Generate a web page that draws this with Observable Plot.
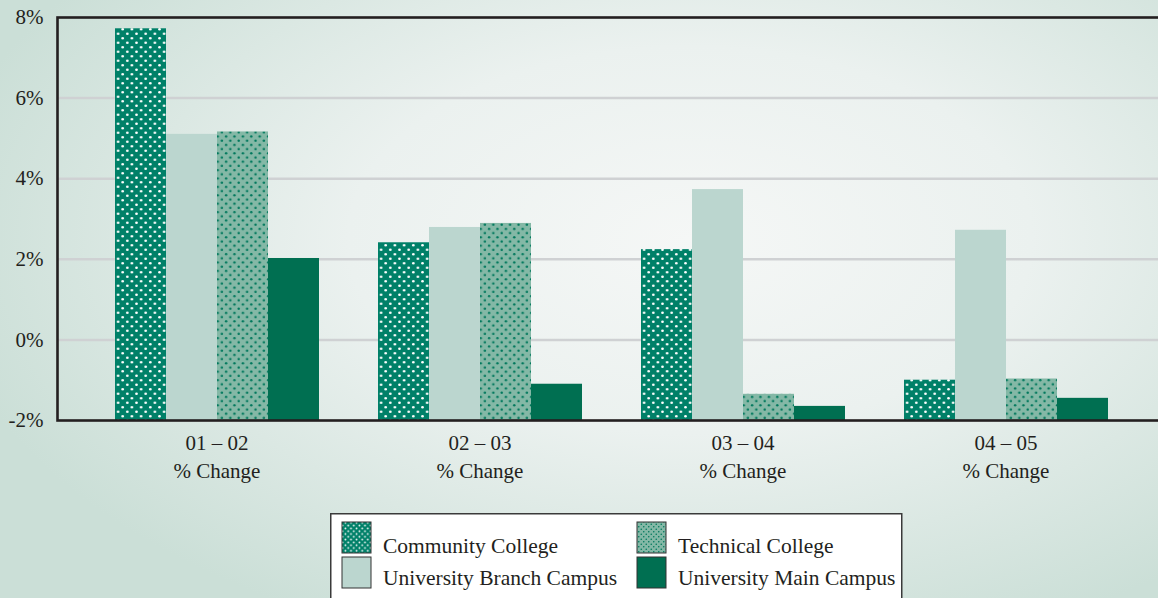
<!DOCTYPE html>
<html>
<head>
<meta charset="utf-8">
<script src="https://cdn.jsdelivr.net/npm/d3@7"></script>
<script src="https://cdn.jsdelivr.net/npm/@observablehq/plot@0.6"></script>
<style>
  html, body { margin: 0; padding: 0; }
  body {
    width: 1158px; height: 598px; overflow: hidden; position: relative;
    background: radial-gradient(ellipse 760px 430px at 690px 240px, #f5f7f6 0%, #ebf1ef 45%, #cbdfd7 100%);
    font-family: "Liberation Serif", serif;
  }
  .layer { position: absolute; left: 0; top: 0; }
  #legend { position: absolute; left: 330px; top: 513px; }
</style>
</head>
<body>
<div id="grid" class="layer"></div>
<div id="bars" class="layer"></div>
<div id="axes" class="layer"></div>
<div id="legend"></div>
<script>
// ---- data ----
const groups = ["01 – 02", "02 – 03", "03 – 04", "04 – 05"];
const groupSuffix = "% Change";
const series = ["Community College", "University Branch Campus", "Technical College", "University Main Campus"];
const communityCollege = [7.72, 2.41, 2.24, -1.0];
const universityBranch = [5.10, 2.79, 3.73, 2.72];
const technicalCollege = [5.16, 2.89, -1.35, -0.97];
const universityMain   = [2.02, -1.1, -1.65, -1.45];
const yTicks = [-2, 0, 2, 4, 6, 8];

const seriesValues = [communityCollege, universityBranch, technicalCollege, universityMain];
const data = [];
groups.forEach((g, gi) => series.forEach((s, si) => data.push({group: g, series: s, value: seriesValues[si][gi]})));

const fills = ["url(#pCC)", "#bbd6cf", "url(#pTC)", "#006f51"];
const legendFills = ["url(#lCC)", "#bbd6cf", "url(#lTC)", "#006f51"];
const ink = "#231f20";

const common = {
  width: 1158,
  height: 505,
  marginLeft: 57,
  marginRight: 0,
  marginTop: 17,
  marginBottom: 85,
  style: {fontFamily: "'Liberation Serif', serif", fontSize: "21px", color: ink, background: "transparent", overflow: "visible"},
  y: {domain: [yTicks[0], yTicks[yTicks.length - 1]], axis: null}
};

// layer 1: gridlines across the full plot width
const gridPlot = Plot.plot({
  ...common,
  marks: [Plot.ruleY(yTicks.slice(1, -1), {stroke: "#cfd1d3", strokeWidth: 2.5})]
});

// layer 2: grouped bars (faceted by period)
const barPlot = Plot.plot({
  ...common,
  fx: {domain: groups, paddingInner: 0.214, paddingOuter: 0.2, align: 0.53, label: null},
  x: {domain: series, padding: 0, axis: null},
  color: {domain: series, range: fills},
  marks: [
    Plot.barY(data, {fx: "group", x: "series", y1: yTicks[0], y2: "value", fill: "series"}),
    Plot.axisFx({anchor: "bottom", tickFormat: d => `${d}\n${groupSuffix}`, tickSize: 0, tickPadding: 9, fontSize: 21, lineHeight: 1.36, fill: ink, label: null})
  ]
});

// layer 3: frame and y axis on top
const axesPlot = Plot.plot({
  ...common,
  marks: [
    Plot.frame({stroke: ink, strokeWidth: 2.6, insetRight: -6}),
    Plot.axisY(yTicks, {tickFormat: d => `${d}%`, tickSize: 0, tickPadding: 14, fontSize: 21, fill: ink})
  ]
});

d3.select(barPlot).insert("defs", ":first-child").html(`
  <pattern id="pCC" patternUnits="userSpaceOnUse" width="9.2" height="9">
    <rect width="9.2" height="9" fill="#008068"/>
    <circle cx="2.3" cy="2.25" r="1.35" fill="#ffffff"/>
    <circle cx="6.9" cy="6.75" r="1.35" fill="#ffffff"/>
  </pattern>
  <pattern id="pTC" patternUnits="userSpaceOnUse" width="8.4" height="8.4">
    <rect width="8.4" height="8.4" fill="#84b8a6"/>
    <circle cx="2.1" cy="2.1" r="1.25" fill="#00785c"/>
    <circle cx="6.3" cy="6.3" r="1.25" fill="#00785c"/>
  </pattern>
`);
document.getElementById("grid").appendChild(gridPlot);
document.getElementById("bars").appendChild(barPlot);
document.getElementById("axes").appendChild(axesPlot);

// ---- legend ----
const lg = d3.select("#legend").append("svg").attr("width", 574).attr("height", 90)
  .style("font-family", "'Liberation Serif', serif");
lg.append("defs").html(`
  <pattern id="lCC" patternUnits="userSpaceOnUse" width="5.6" height="5.6">
    <rect width="5.6" height="5.6" fill="#008068"/>
    <circle cx="1.4" cy="1.4" r="0.9" fill="#ffffff"/>
    <circle cx="4.2" cy="4.2" r="0.9" fill="#ffffff"/>
  </pattern>
  <pattern id="lTC" patternUnits="userSpaceOnUse" width="5" height="5">
    <rect width="5" height="5" fill="#84b8a6"/>
    <circle cx="1.25" cy="1.25" r="0.8" fill="#00785c"/>
    <circle cx="3.75" cy="3.75" r="0.8" fill="#00785c"/>
  </pattern>
`);
lg.append("rect").attr("x", 0.75).attr("y", 0.75).attr("width", 571).attr("height", 100)
  .attr("fill", "#ffffff").attr("stroke", "#3a3a3a").attr("stroke-width", 1.5);
const cols = [12, 307];
const rows = [9, 44];
const baselines = [40, 72];
const order = [0, 2, 1, 3]; // row-major: CC, TC / UBC, UMC
order.forEach((si, k) => {
  const c = k % 2, r = Math.floor(k / 2);
  lg.append("rect").attr("x", cols[c]).attr("y", rows[r]).attr("width", 29).attr("height", 31)
    .attr("fill", legendFills[si]).attr("stroke", "#333").attr("stroke-width", 1);
  lg.append("text").attr("x", cols[c] + 41).attr("y", baselines[r]).attr("font-size", 21.5).attr("fill", ink).text(series[si]);
});
</script>
</body>
</html>
